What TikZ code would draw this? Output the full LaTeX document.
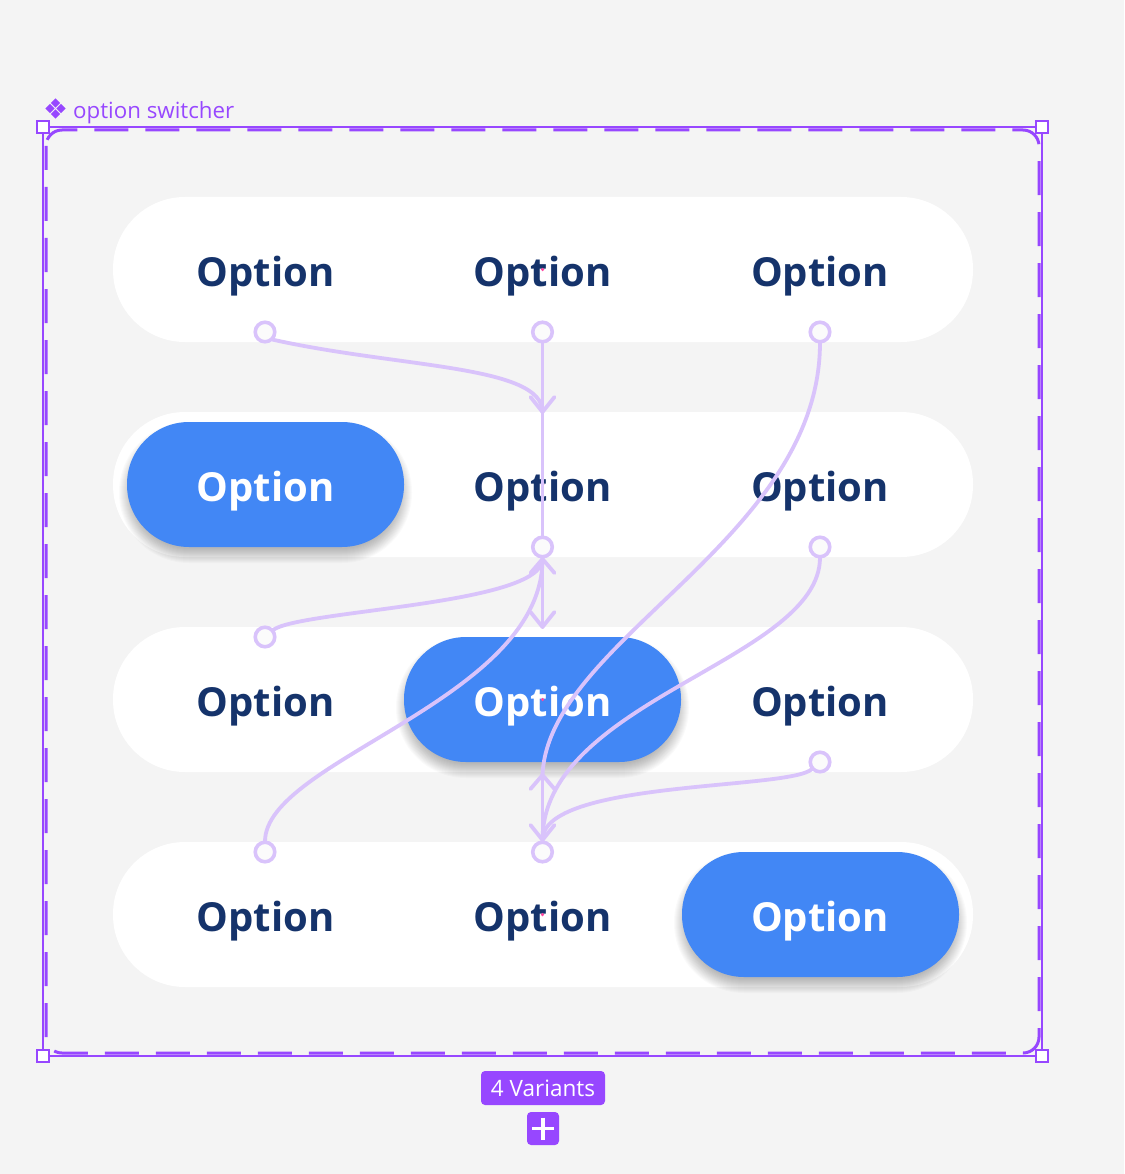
\documentclass[tikz,border=0pt]{standalone}
\usepackage{fontspec}
\setmainfont{Open Sans}
\newfontfamily\uifont{Open Sans}
\newfontfamily\optA{Open Sans}
\usetikzlibrary{calc}
\definecolor{bg}{RGB}{244,244,244}
\definecolor{navy}{RGB}{21,51,107}
\definecolor{pillblue}{RGB}{66,135,245}
\definecolor{fig}{RGB}{151,71,255}
\definecolor{conncol}{RGB}{217,195,251}
\definecolor{hot}{RGB}{255,70,160}
\begin{document}
\begin{tikzpicture}[x=1pt,y=-1pt,
  rowpill/.style={fill=white, draw=none, minimum width=860pt, minimum height=145pt, rounded corners=72pt, inner sep=0pt},
  selpill/.style={fill=pillblue, draw=none, minimum width=277pt, minimum height=125pt, rounded corners=62pt, inner sep=0pt},
  opt/.style={anchor=base, inner sep=0pt, text=navy, font=\optA\bfseries\fontsize{40}{48}\selectfont},
  optsel/.style={opt, text=white},
  conn/.style={draw=conncol, line width=3.8pt, line cap=round, line join=round},
  hub/.style={circle, draw=conncol, line width=3.6pt, fill=white!60!bg, minimum size=19.5pt, inner sep=0pt},
  handle/.style={draw=fig, line width=1.8pt, fill=white, minimum size=12.5pt, inner sep=0pt},
  hotdot/.style={circle, fill=hot, minimum size=3.5pt, inner sep=0pt}
]
\useasboundingbox (0,0) rectangle (1124,1174);
\fill[bg] (0,0) rectangle (1124,1174);

% frame
\draw[fig, line width=1.2pt] (43,127) rectangle (1042,1056);
\draw[fig, line width=3pt, rounded corners=16pt, dash pattern=on 34pt off 17pt, dash phase=10pt] (46,130) rectangle (1039,1053);
\node[handle] (h1) at (43,127) {};
\node[handle] (h2) at (1042,127) {};
\node[handle] (h3) at (43,1056) {};
\node[handle] (h4) at (1042,1056) {};

% label
\foreach \dx/\dy in {0/-5.5, -5.5/0, 5.5/0, 0/5.5}
  \fill[fig] ($(55.5,108.5)+(\dx,\dy)$) +(0,-4.6) -- +(4.6,0) -- +(0,4.6) -- +(-4.6,0) -- cycle;
\node[anchor=base west, inner sep=0pt, text=fig, font=\uifont\fontsize{22.3}{26}\selectfont] (title) at (73,118.5) {option switcher};

% rows
\node[rowpill] (r1) at (543,269.5) {};
\node[rowpill] (r2) at (543,484.5) {};
\node[rowpill] (r3) at (543,699.5) {};
\node[rowpill] (r4) at (543,914.5) {};

% shadows of selected pills
\foreach \cx/\cy in {265.5/484.5, 542.5/699.5, 820.5/914.5}{
  \foreach \i [evaluate=\i as \w using {265+2*\i}, evaluate=\i as \h using {113+2*\i}, evaluate=\i as \r using {56+\i}] in {0,...,14}
    \node[fill=black, fill opacity=0.018, draw=none, inner sep=0pt, minimum width=\w pt, minimum height=\h pt, rounded corners=\r pt] at (\cx,\cy+8) {};
}
\node[selpill] (b2) at (265.5,484.5) {};
\node[selpill] (b3) at (542.5,699.5) {};
\node[selpill] (b4) at (820.5,914.5) {};

% texts
\node[opt] (o11) at (265.5,286) {Option};
\node[opt] (o12) at (542.5,286) {Option};
\node[opt] (o13) at (820,286) {Option};
\node[optsel] (o21) at (265.5,501) {Option};
\node[opt] (o22) at (542.5,501) {Option};
\node[opt] (o23) at (820,501) {Option};
\node[opt] (o31) at (265.5,716) {Option};
\node[optsel] (o32) at (542.5,716) {Option};
\node[opt] (o33) at (820,716) {Option};
\node[opt] (o41) at (265.5,931) {Option};
\node[opt] (o42) at (542.5,931) {Option};
\node[optsel] (o43) at (820,931) {Option};

% hotspot dots
\node[hotdot] (d1) at (542.5,269.5) {};
\node[hotdot] (d2) at (542.5,484.5) {};
\node[hotdot] (d3) at (542.5,699.5) {};
\node[hotdot] (d4) at (542.5,914.5) {};

% connector hubs (positions)
\coordinate (p11) at (265,332);
\coordinate (p12) at (542.5,332);
\coordinate (p13) at (820,332);
\coordinate (p22) at (542.5,547);
\coordinate (p23) at (820,547);
\coordinate (p31) at (265,637);
\coordinate (p33) at (820,762);
\coordinate (p41) at (265,852);
\coordinate (p42) at (542.5,852);
% arrow tips
\coordinate (t2) at (542.5,412);
\coordinate (t2u) at (542.5,559);
\coordinate (t3) at (542.5,627);
\coordinate (t3u) at (542.5,775);
\coordinate (t4) at (542.5,840);

% connectors
\draw[conn] ($(p11)+(7,7.5)$) .. controls (400,368) and (542.5,365) .. (t2);
\draw[conn] ($(p12)+(0,10.5)$) -- ($(p22)+(0,-10.5)$);
\draw[conn] ($(p13)+(0,10.5)$) .. controls (820,540) and (548,640) .. (t3u);
\draw[conn] ($(p22)+(0,10.5)$) -- (t3);
\draw[conn] ($(p31)+(8,-7)$) .. controls (300,610) and (542.5,605) .. (t2u);
\draw[conn] ($(p41)+(0,-10.5)$) .. controls (265,760) and (542.5,700) .. (t2u);
\draw[conn] ($(p23)+(0,10.5)$) .. controls (820,660) and (542.5,700) .. (t4);
\draw[conn] ($(p33)+(-8,7)$) .. controls (790,790) and (542.5,780) .. (t4);
\draw[conn] ($(p42)+(0,-10.5)$) -- (t3u);

% arrow heads
\foreach \t in {t2,t3,t4}
  \draw[conn] ($(\t)+(-12,-15)$) -- (\t) -- ($(\t)+(12,-15)$);
\foreach \t in {t2u,t3u}
  \draw[conn] ($(\t)+(-12,14)$) -- (\t) -- ($(\t)+(12,14)$);

% hub circles
\node[hub] (c11) at (p11) {};
\node[hub] (c12) at (p12) {};
\node[hub] (c13) at (p13) {};
\node[hub] (c22) at (p22) {};
\node[hub] (c23) at (p23) {};
\node[hub] (c31) at (p31) {};
\node[hub] (c33) at (p33) {};
\node[hub] (c41) at (p41) {};
\node[hub] (c42) at (p42) {};

% variants badge and plus
\node[fill=fig, rounded corners=4pt, minimum width=124pt, minimum height=34pt, inner sep=0pt] (badge) at (543,1088) {};
\node[anchor=base, inner sep=0pt, text=white, font=\uifont\fontsize{22.5}{26}\selectfont] (badgetxt) at (543,1096) {4 Variants};
\node[fill=fig, rounded corners=4pt, minimum width=32pt, minimum height=33pt, inner sep=0pt] (plus) at (543,1128.5) {};
\draw[white, line width=3.2pt] ($(plus.center)+(-11,0)$) -- ($(plus.center)+(11,0)$);
\draw[white, line width=3.2pt] ($(plus.center)+(0,-11)$) -- ($(plus.center)+(0,11)$);
\end{tikzpicture}
\end{document}
